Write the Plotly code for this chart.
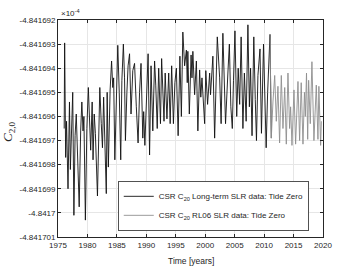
import plotly.graph_objects as go

# ---- data (C20 values in units of 1e-4) ----
longterm_time = [
    1976.05, 1976.13, 1976.30, 1976.45, 1976.70, 1976.95, 1977.10, 1977.30, 1977.50, 1977.70,
    1977.90, 1978.10, 1978.35, 1978.60, 1978.85, 1979.05, 1979.25, 1979.40, 1979.65, 1979.90,
    1980.15, 1980.40, 1980.55, 1980.80, 1980.95, 1981.15, 1981.35, 1981.70, 1981.95, 1982.10,
    1982.35, 1982.55, 1982.75, 1983.00, 1983.20, 1983.35, 1983.55, 1983.85, 1984.10, 1984.30,
    1984.45, 1984.65, 1984.90, 1985.15, 1985.40, 1985.65, 1985.85, 1986.10, 1986.30, 1986.45,
    1986.70, 1986.90, 1987.15, 1987.40, 1987.70, 1988.00, 1988.30, 1988.60, 1988.85, 1989.10,
    1989.40, 1989.55, 1989.75, 1990.00, 1990.30, 1990.55, 1990.80, 1991.10, 1991.40, 1991.60,
    1991.85, 1992.10, 1992.40, 1992.60, 1992.80, 1993.00, 1993.20, 1993.50, 1993.80, 1994.05,
    1994.30, 1994.60, 1994.85, 1995.10, 1995.40, 1995.70, 1995.95, 1996.20, 1996.50, 1996.80,
    1996.95, 1997.05, 1997.30, 1997.60, 1997.75, 1997.90, 1998.20, 1998.50, 1998.75, 1999.05,
    1999.25, 1999.45, 1999.90, 2000.10, 2000.40, 2000.75, 2000.90, 2001.30, 2001.60, 2002.05,
    2002.45, 2002.70, 2003.00, 2003.20, 2003.45, 2003.85, 2004.10, 2004.35, 2004.60, 2004.80,
    2005.05, 2005.35, 2005.60, 2005.85, 2006.10, 2006.40, 2006.65, 2006.95, 2007.25, 2007.50,
    2007.70, 2007.95, 2008.25, 2008.50, 2008.70, 2008.95, 2009.30, 2009.55, 2009.90, 2010.35,
    2010.60, 2011.00, 2011.22,
]
longterm_c20 = [
    -4.8416965, -4.84169295, -4.8416977, -4.8416962, -4.841699, -4.8416954, -4.8416982, -4.8416965, -4.841695, -4.8417001,
    -4.8416968, -4.8416959, -4.8416975, -4.84169975, -4.8416966, -4.8416954, -4.8416966, -4.841696, -4.8417003, -4.8416965,
    -4.8416948, -4.8416966, -4.8416974, -4.8416954, -4.8416978, -4.8416959, -4.8416967, -4.8416993, -4.8416959, -4.8416948,
    -4.8416963, -4.8416973, -4.8416952, -4.841697, -4.8416992, -4.841695, -4.8416981, -4.8416949, -4.8416937, -4.8416948,
    -4.8416944, -4.8416978, -4.8416952, -4.84169305, -4.841695, -4.8416978, -4.8416945, -4.841693, -4.8416944, -4.841697,
    -4.841695, -4.8416939, -4.8416934, -4.8416959, -4.8416941, -4.8416938, -4.8416956, -4.8416971, -4.841695, -4.8416938,
    -4.8416969, -4.8416958, -4.8416972, -4.841695, -4.8416934, -4.8416976, -4.8416939, -4.8416966, -4.8416937, -4.8416947,
    -4.8416965, -4.841694, -4.8416963, -4.8416936, -4.8416955, -4.8416962, -4.8416942, -4.8416961, -4.8416942, -4.8416963,
    -4.8416939, -4.8416963, -4.8416946, -4.841694, -4.8416968, -4.8416935, -4.841696, -4.8416925, -4.8416939, -4.84169325,
    -4.8416946, -4.8416933, -4.8416959, -4.84169345, -4.8416944, -4.8416933, -4.8416951, -4.8416937, -4.8416966, -4.84169407,
    -4.8416952, -4.8416944, -4.8416963, -4.8416941, -4.8416955, -4.8416942, -4.8416951, -4.8416935, -4.8416969, -4.8416927,
    -4.8416944, -4.8416963, -4.84169255, -4.841694, -4.8416963, -4.8416942, -4.841693, -4.8416956, -4.8416965, -4.8416945,
    -4.84169245, -4.841696, -4.841694, -4.8416955, -4.8416927, -4.8416965, -4.8416942, -4.8416962, -4.8416922, -4.8416956,
    -4.841694, -4.8416968, -4.8416927, -4.8416953, -4.841697, -4.8416943, -4.8416932, -4.8416967, -4.841693, -4.8416973,
    -4.841695, -4.8416926, -4.8416969,
]

rl06_time = [
    2011.00, 2011.22, 2011.50, 2011.80, 2012.07, 2012.35, 2012.63, 2012.92, 2013.20, 2013.50,
    2013.77, 2014.05, 2014.33, 2014.50, 2014.73, 2015.07, 2015.35, 2015.75, 2016.03, 2016.30,
    2016.60, 2016.85, 2017.00, 2017.20, 2017.40, 2017.56, 2017.84, 2018.12, 2018.46, 2018.86,
    2019.14, 2019.30, 2019.60, 2019.72,
]
rl06_c20 = [
    -4.8416926, -4.8416969, -4.8416954, -4.8416943, -4.8416962, -4.84169475, -4.8416971, -4.8416943, -4.8416965, -4.8416948,
    -4.84169715, -4.8416942, -4.8416965, -4.8416956, -4.8416972, -4.8416949, -4.84169715, -4.84169455, -4.841697, -4.8416946,
    -4.84169715, -4.841695, -4.841696, -4.8416942, -4.84169695, -4.8416945, -4.8416963, -4.84169373, -4.841697, -4.8416947,
    -4.84169695, -4.84169475, -4.8416972, -4.8416962,
]

x_ticks = [1975, 1980, 1985, 1990, 1995, 2000, 2005, 2010, 2015, 2020]
y_ticks = [-4.841692, -4.841693, -4.841694, -4.841695, -4.841696, -4.841697,
           -4.841698, -4.841699, -4.8417, -4.841701]
y_tick_labels = ["-4.841692", "-4.841693", "-4.841694", "-4.841695", "-4.841696",
                 "-4.841697", "-4.841698", "-4.841699", "-4.8417", "-4.841701"]

series_names = ["CSR C<sub>20</sub> Long-term SLR data: Tide Zero",
                "CSR C<sub>20</sub> RL06 SLR data: Tide Zero"]

FONT = "Liberation Sans, Arial, sans-serif"
TXT = "#262626"

fig = go.Figure()
fig.add_trace(go.Scatter(x=longterm_time, y=longterm_c20, mode="lines",
                         name=series_names[0], line=dict(color="#111111", width=0.9)))
fig.add_trace(go.Scatter(x=rl06_time, y=rl06_c20, mode="lines",
                         name=series_names[1], line=dict(color="#8f8f8f", width=0.9)))

axis_common = dict(showline=True, linecolor=TXT, linewidth=0.8, mirror="ticks",
                   ticks="inside", ticklen=3, tickcolor=TXT, tickwidth=0.8,
                   showgrid=True, gridcolor="#e6e6e6", gridwidth=0.8, zeroline=False,
                   tickfont=dict(family=FONT, size=8, color=TXT))

fig.update_layout(
    width=357, height=268, autosize=False,
    margin=dict(l=58, r=34, t=20, b=31),
    paper_bgcolor="white", plot_bgcolor="white",
    showlegend=True,
    legend=dict(x=0.947, y=0.258, xanchor="right", yanchor="top",
                bgcolor="white", bordercolor=TXT, borderwidth=0.8,
                font=dict(family=FONT, size=8, color=TXT),
                itemwidth=30, tracegroupgap=0),
    xaxis=dict(range=[1975, 2020], tickvals=x_ticks, **axis_common),
    yaxis=dict(range=[y_ticks[-1], y_ticks[0]], tickvals=y_ticks, ticktext=y_tick_labels,
               **axis_common),
)

fig.add_annotation(text="\u00d710<sup>-4</sup>", x=0.005, y=1.0, xref="paper", yref="paper",
                   xanchor="left", yanchor="bottom", showarrow=False,
                   font=dict(family=FONT, size=8, color=TXT))
fig.add_annotation(text="<i>C</i><sub>2,0</sub>", x=-0.185, y=0.484, xref="paper", yref="paper",
                   xanchor="center", yanchor="middle", textangle=-90, showarrow=False,
                   font=dict(family="Liberation Serif, serif", size=13, color=TXT))
fig.add_annotation(text="Time [years]", x=0.5, y=-0.11, xref="paper", yref="paper",
                   xanchor="center", yanchor="middle", showarrow=False,
                   font=dict(family=FONT, size=8.5, color=TXT))

fig.write_html("out.html", config={"displayModeBar": False},
               post_script="document.body.style.margin='0px';")
